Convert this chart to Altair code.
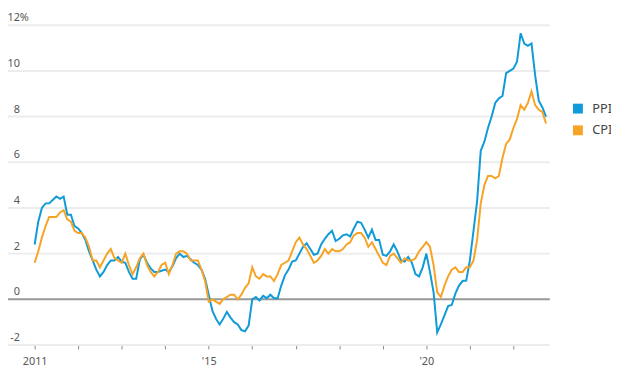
import altair as alt
import pandas as pd

# ---- data (monthly, Jan 2011 - Oct 2022, year-over-year % change) ----
series = ["PPI", "CPI"]
colors = ["#0f9ad8", "#f7a325"]

ppi = [
    2.4, 3.4, 4.0, 4.2, 4.2, 4.35, 4.5, 4.4, 4.5, 3.7, 3.7, 3.2,          # 2011
    3.1, 2.9, 2.6, 2.1, 1.7, 1.3, 1.0, 1.2, 1.5, 1.7, 1.7, 1.85,         # 2012
    1.65, 1.6, 1.2, 0.9, 0.9, 1.75, 1.95, 1.6, 1.35, 1.2, 1.2, 1.25,     # 2013
    1.3, 1.2, 1.45, 1.8, 2.0, 1.85, 1.9, 1.75, 1.6, 1.5, 1.3, 0.9,       # 2014
    0.2, -0.5, -0.85, -1.1, -0.85, -0.55, -0.8, -1.0, -1.1, -1.35, -1.4, -1.15,  # 2015
    0.0, 0.1, -0.05, 0.15, 0.05, 0.2, 0.05, 0.05, 0.6, 1.05, 1.3, 1.65,  # 2016
    1.7, 2.0, 2.3, 2.45, 2.2, 1.95, 2.0, 2.4, 2.65, 2.85, 3.0, 2.55,     # 2017
    2.65, 2.8, 2.85, 2.75, 3.1, 3.4, 3.35, 3.05, 2.7, 3.05, 2.6, 2.6,    # 2018
    1.95, 1.9, 2.1, 2.4, 2.1, 1.7, 1.65, 1.85, 1.6, 1.1, 1.0, 1.4,       # 2019
    2.0, 1.2, 0.3, -1.45, -1.1, -0.7, -0.3, -0.25, 0.25, 0.6, 0.8, 0.82, # 2020
    1.7, 3.0, 4.3, 6.5, 6.9, 7.5, 8.0, 8.6, 8.8, 8.9, 9.9, 10.0,         # 2021
    10.1, 10.4, 11.65, 11.2, 11.1, 11.2, 9.8, 8.7, 8.4, 8.0,             # 2022
]

cpi = [
    1.6, 2.1, 2.7, 3.2, 3.6, 3.6, 3.6, 3.8, 3.9, 3.5, 3.4, 3.0,          # 2011
    2.9, 2.9, 2.7, 2.3, 1.7, 1.7, 1.4, 1.7, 2.0, 2.2, 1.8, 1.7,          # 2012
    1.6, 2.0, 1.5, 1.1, 1.4, 1.8, 2.0, 1.5, 1.2, 1.0, 1.2, 1.5,          # 2013
    1.6, 1.1, 1.5, 2.0, 2.1, 2.1, 2.0, 1.7, 1.7, 1.7, 1.3, 0.8,          # 2014
    -0.1, 0.0, -0.1, -0.2, 0.0, 0.1, 0.2, 0.2, 0.0, 0.2, 0.5, 0.7,       # 2015
    1.4, 1.0, 0.9, 1.1, 1.0, 1.0, 0.8, 1.1, 1.5, 1.6, 1.7, 2.1,          # 2016
    2.5, 2.7, 2.4, 2.2, 1.9, 1.6, 1.7, 1.9, 2.2, 2.0, 2.2, 2.1,          # 2017
    2.1, 2.2, 2.4, 2.5, 2.8, 2.9, 2.9, 2.7, 2.3, 2.5, 2.2, 1.9,          # 2018
    1.6, 1.5, 1.9, 2.0, 1.8, 1.6, 1.8, 1.7, 1.7, 1.8, 2.1, 2.3,          # 2019
    2.5, 2.3, 1.5, 0.3, 0.1, 0.6, 1.0, 1.3, 1.4, 1.2, 1.2, 1.4,          # 2020
    1.4, 1.7, 2.6, 4.2, 5.0, 5.4, 5.4, 5.3, 5.4, 6.2, 6.8, 7.0,          # 2021
    7.5, 7.9, 8.5, 8.3, 8.6, 9.1, 8.5, 8.3, 8.2, 7.7,                    # 2022
]

year_ticks = list(range(2011, 2023))
y_ticks = [-2, 2, 4, 6, 8, 10, 12]
y_labels = ["-2", "0", "2", "4", "6", "8", "10", "12"]
y_label_vals = [-2, 0, 2, 4, 6, 8, 10, 12]

# ---- tables ----
t = [2011 + i / 12 for i in range(len(cpi))]
df = pd.DataFrame({
    "t": t + t,
    "value": ppi + cpi,
    "series": ["PPI"] * len(ppi) + ["CPI"] * len(cpi),
})
grid_df = pd.DataFrame({"v": y_ticks})
zero_df = pd.DataFrame({"v": [0]})
lab_df = pd.DataFrame({"v": y_label_vals, "label": y_labels})
pct_df = pd.DataFrame({"v": [12], "label": ["%"]})

FONT = "Noto Sans"
yscale = alt.Scale(domain=[-2, 12], nice=False, zero=False)
xscale = alt.Scale(domain=[2010.388, 2022.837], nice=False, zero=False)

label_expr = ("datum.value == 2011 ? '2011' : datum.value == 2015 ? \"'15\" : "
              "datum.value == 2020 ? \"'20\" : ''")

grid = alt.Chart(grid_df).mark_rule(color="#ececec", strokeWidth=2).encode(
    y=alt.Y("v:Q", scale=yscale, axis=None)
)
zero = alt.Chart(zero_df).mark_rule(color="#999999", strokeWidth=2).encode(
    y=alt.Y("v:Q", scale=yscale, axis=None)
)

color = alt.Color(
    "series:N",
    scale=alt.Scale(domain=series, range=colors),
    legend=alt.Legend(
        orient="none", legendX=571, legendY=78, title=None,
        symbolType="square", symbolSize=25, symbolStrokeWidth=5,
        labelFontSize=13, labelColor="#444444", labelFont=FONT,
        labelOffset=8, rowPadding=-3, padding=0,
    ),
)

xenc = alt.X(
    "t:Q", scale=xscale,
    axis=alt.Axis(
        values=year_ticks, labelExpr=label_expr, grid=False, domain=False,
        ticks=True, tickColor="#888888", tickSize=4, tickWidth=1,
        labelFontSize=11, labelColor="#555555", labelFont=FONT,
        labelPadding=7, labelOverlap=False, labelFlush=False, title=None,
    ),
)

line_ppi = alt.Chart(df).transform_filter(alt.datum.series == "PPI").mark_line(
    strokeWidth=2
).encode(x=xenc, y=alt.Y("value:Q", scale=yscale, axis=None), color=color)

line_cpi = alt.Chart(df).transform_filter(alt.datum.series == "CPI").mark_line(
    strokeWidth=2
).encode(x=alt.X("t:Q", scale=xscale), y=alt.Y("value:Q", scale=yscale, axis=None), color=color)

ylabels = alt.Chart(lab_df).mark_text(
    align="right", baseline="alphabetic", dy=-4, fontSize=11, color="#555555", font=FONT
).encode(x=alt.value(12), y=alt.Y("v:Q", scale=yscale, axis=None), text="label:N")

pct = alt.Chart(pct_df).mark_text(
    align="left", baseline="alphabetic", dy=-4, fontSize=11, color="#555555", font=FONT
).encode(x=alt.value(12), y=alt.Y("v:Q", scale=yscale, axis=None), text="label:N")

chart = alt.layer(grid, zero, line_ppi, line_cpi, ylabels, pct).properties(
    width=549, height=324,
    autosize=alt.AutoSizeParams(type="none"),
    padding={"left": 0, "top": 15, "right": 62, "bottom": 30},
).configure_view(stroke=None)

chart.save("out.html", embed_options={"renderer": "svg", "actions": False})
